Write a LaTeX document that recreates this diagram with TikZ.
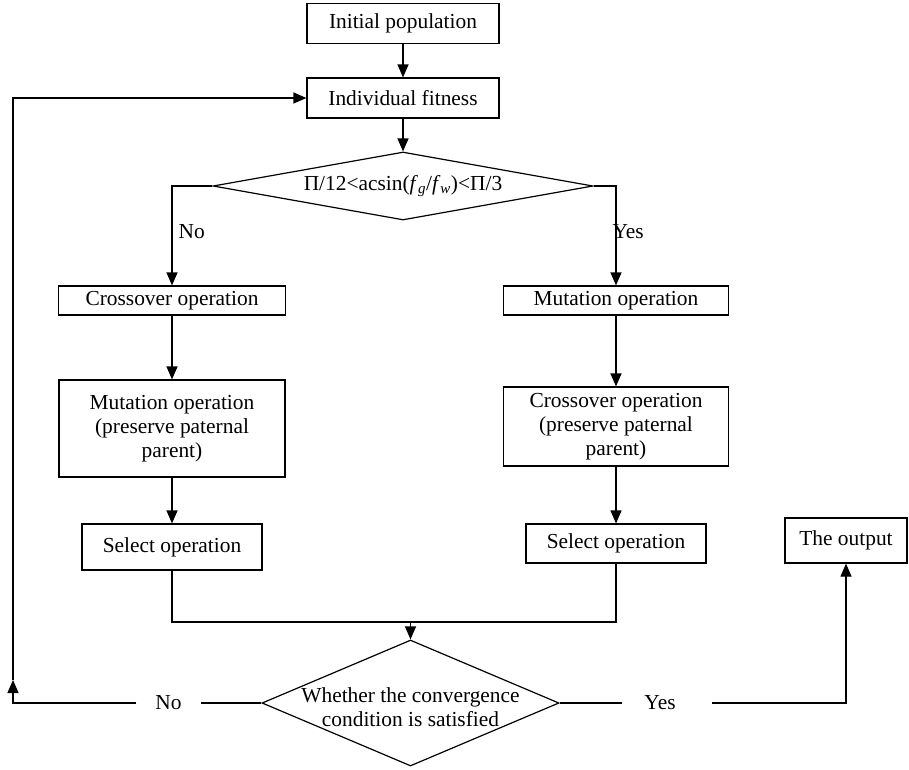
\documentclass[tikz,border=0pt]{standalone}
\usepackage{fontspec}
\setmainfont{Liberation Serif}
\usetikzlibrary{shapes.geometric,arrows.meta}
\begin{document}
\begin{tikzpicture}[x=1pt, y=-1pt, line width=1.2pt,
  every node/.style={inner sep=0pt, align=center, font=\fontsize{21.4}{24}\selectfont},
  box/.style={draw, minimum width=192pt, minimum height=40pt},
  dia/.style={draw, diamond, inner sep=0pt},
  arr/.style={-{Triangle[length=13pt,width=11pt]}}]
          \useasboundingbox (0,0) rectangle (909,769);
          \node [box] (1) at (403,23.5) {Initial population};
          \node [box] (2) at (403,98) {Individual fitness};
          \node [dia, aspect=5.6, minimum width=380pt, minimum height=68pt] (3) at (403,186) {Π/12<acsin(\textit{f}\textsubscript{\textit{g}}/\textit{f}\textsubscript{\textit{w}})<Π/3};
          \node [box, minimum width=227pt, minimum height=29pt] (4) at (172,300.5) {Crossover operation};
          \node [box, minimum width=225pt, minimum height=29pt] (5) at (616,300.5) {Mutation operation};
          \node [box, minimum width=226pt, minimum height=97pt] (6) at (172,428.5) {Mutation operation\\(preserve paternal\\parent)};
          \node [box, minimum width=225pt, minimum height=79pt] (7) at (616,426.5) {Crossover operation\\(preserve paternal\\parent)};
          \node [box, minimum width=180pt, minimum height=46pt] (8) at (172,547) {Select operation};
          \node [box, minimum width=180pt, minimum height=39pt] (9) at (616,543.5) {Select operation};
          \node [dia, minimum width=297pt, minimum height=126pt] (10) at (410.5,703) {};
          \node (11) at (410.5,707) {Whether the convergence\\condition is satisfied};
          \node [box, minimum width=122pt, minimum height=45pt] (12) at (846,540.5) {The output};
          \node [anchor=west] (13) at (178,232) {No};
          \node [anchor=west] (14) at (612,232) {Yes};
          \node [minimum width=63pt] (15) at (168.5,703) {No};
          \node [minimum width=74pt] (16) at (660,703) {Yes};
          \coordinate (m) at (410.5,622);
          \coordinate (c) at (13,703);
          \coordinate (a) at (13,680);
          \draw [arr] (1) -- (2);
          \draw [arr] (2) -- (3);
          \draw [arr] (3.west) -| (4.north);
          \draw [arr] (3.east) -| (5.north);
          \draw [arr] (4) -- (6);
          \draw [arr] (6) -- (8);
          \draw [arr] (5) -- (7);
          \draw [arr] (7) -- (9);
          \draw (8.south) |- (m);
          \draw (9.south) |- (m);
          \draw [arr] (m) -- (10);
          \draw (10.west) -- (15.east);
          \draw [arr] (15.west) -- (c) -- (a);
          \draw [arr] (a) |- (2.west);
          \draw (10.east) -- (16.west);
          \draw [arr] ([xshift=14pt]16.east) -| (12.south);
        \end{tikzpicture}
\end{document}
